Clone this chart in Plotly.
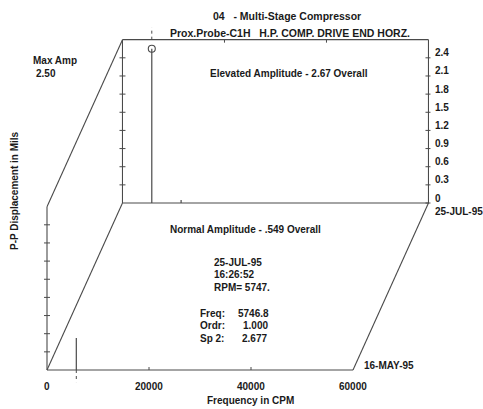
import plotly.graph_objects as go

# ---------------- data ----------------
dates = ["16-MAY-95", "25-JUL-95"]            # front plane, back plane
peak_freq = [5747, 5747]                      # CPM (1x running speed)
peak_amp = [0.53, 2.55]                       # mils p-p
small_freq = [11494, 11494]                   # 2x component
small_amp = [0.0, 0.05]
freq_min, freq_max = 0, 60000
amp_full = 2.7
amp_step = 0.3
x_tick_vals = [0, 20000, 40000, 60000]
x_tick_text = ["0", "20000", "40000", "60000"]
y_tick_vals = [0, 0.3, 0.6, 0.9, 1.2, 1.5, 1.8, 2.1, 2.4]
y_tick_text = ["0", "0.3", "0.6", "0.9", "1.2", "1.5", "1.8", "2.1", "2.4"]
# oblique offset of the later spectrum (waterfall depth)
dx_cpm = 14800
dy_mils = 2.76

# ---------------- layout geometry ----------------
W, H = 483, 409
x0_px, x1_px = 47, 353        # front plane 0..60000
y0_px = 370                   # front baseline
px_per_mil = 60.5
cpm_per_px = (freq_max - freq_min) / (x1_px - x0_px)
xr = [freq_min - x0_px * cpm_per_px, freq_min + (W - x0_px) * cpm_per_px]
yr = [-(H - y0_px) / px_per_mil, y0_px / px_per_mil]

LC = "#4a4a4a"
TC = "#1a1a1a"
FONT = "Liberation Sans"
FS = 10

fig = go.Figure()
shapes = []
annotations = []

def line(xa, ya, xb, yb, dash="solid", w=1.1):
    shapes.append(dict(type="line", x0=xa, y0=ya, x1=xb, y1=yb, xref="x", yref="y",
                       line=dict(color=LC, width=w, dash=dash)))

def htick(x, y, left=3, right=3):
    shapes.append(dict(type="line", xref="x", yref="y", xsizemode="pixel", xanchor=x,
                       x0=-left, x1=right, y0=y, y1=y, line=dict(color=LC, width=1)))

def vtick(x, y, up=3, down=0):
    shapes.append(dict(type="line", xref="x", yref="y", ysizemode="pixel", yanchor=y,
                       y0=-down, y1=up, x0=x, x1=x, line=dict(color=LC, width=1)))

# frame of the waterfall
bx0, bx1 = freq_min + dx_cpm, freq_max + dx_cpm
line(freq_min, 0, freq_min, amp_full)                      # front left axis
line(freq_min, 0, bx0, dy_mils)                            # bottom-left diagonal
line(freq_min, amp_full, bx0, dy_mils + amp_full)          # top-left diagonal
line(freq_max, 0, bx1, dy_mils)                            # bottom-right diagonal
line(bx0, dy_mils, bx0, dy_mils + amp_full)                # back left axis
line(bx0, dy_mils + amp_full, bx1, dy_mils + amp_full)     # back top
line(bx1, dy_mils, bx1, dy_mils + amp_full)                # back right axis

nticks = int(round(amp_full / amp_step))
for i in range(1, nticks):
    v = i * amp_step
    htick(freq_min, v, 3, 3)
    htick(bx0, dy_mils + v, 3, 3)
for v in y_tick_vals:
    htick(bx1, dy_mils + v, 3, 2)
for v in x_tick_vals[1:-1]:
    vtick(v, 0, 3, 0)
    vtick(v + dx_cpm, dy_mils + amp_full, 0, 3)

# spectra
for k, (off_x, off_y) in enumerate([(0, 0), (dx_cpm, dy_mils)]):
    xs = [freq_min, peak_freq[k], peak_freq[k], peak_freq[k], small_freq[k], small_freq[k],
          small_freq[k], freq_max]
    ys = [0, 0, peak_amp[k], 0, 0, small_amp[k], 0, 0]
    fig.add_trace(go.Scatter(x=[v + off_x for v in xs], y=[v + off_y for v in ys],
                             mode="lines", line=dict(color=LC, width=1.2),
                             hoverinfo="skip", showlegend=False))

# cursor lines (dotted extensions) and cursor circle
line(peak_freq[0], 0, peak_freq[0], -0.2, dash="dot", w=1)
line(peak_freq[1] + dx_cpm, dy_mils + amp_full, peak_freq[1] + dx_cpm, dy_mils + amp_full + 0.2,
     dash="dot", w=1)
fig.add_trace(go.Scatter(x=[peak_freq[1] + dx_cpm], y=[peak_amp[1] + dy_mils], mode="markers",
                         marker=dict(symbol="circle-open", size=7, color=LC, line=dict(width=1.1)),
                         hoverinfo="skip", showlegend=False))

def txt(text, x, y, xref="x", yref="y", xa="center", ya="middle", size=FS, xs=0, ys=0,
        angle=0):
    annotations.append(dict(text="<b>" + text + "</b>", x=x, y=y, xref=xref, yref=yref,
                            xanchor=xa, yanchor=ya, showarrow=False, xshift=xs, yshift=ys,
                            textangle=angle,
                            font=dict(family=FONT, size=size, color=TC)))

def ptxt(text, px, py, xa="center", size=FS, angle=0):
    txt(text, px / W, 1 - py / H, xref="paper", yref="paper", xa=xa, size=size, angle=angle)

# axis tick labels
for v, t in zip(x_tick_vals, x_tick_text):
    txt(t, v, 0, ya="middle", ys=-16)
for v, t in zip(y_tick_vals, y_tick_text):
    txt(t, bx1, dy_mils + v, xa="left", xs=5, ys=5)
txt(dates[1], bx1, dy_mils, xa="left", xs=5, ys=-8)
txt(dates[0], freq_max, 0, xa="left", xs=9, ys=5)

# titles and notes
ptxt("04\u00a0\u00a0\u00a0- Multi-Stage Compressor", 287, 16, size=10.5)
ptxt("Prox.Probe-C1H\u00a0\u00a0\u00a0H.P. COMP. DRIVE END HORZ.", 290, 33, size=10.5)
ptxt("Max Amp", 55, 60)
ptxt("2.50", 46, 73)
ptxt("Elevated Amplitude - 2.67 Overall", 289, 73)
ptxt("Normal Amplitude - .549 Overall", 246, 229)
ptxt("25-JUL-95", 212, 262, xa="left")
ptxt("16:26:52", 212, 274, xa="left")
ptxt("RPM= 5747.", 212, 287, xa="left")
ptxt("Freq:", 198, 313, xa="left")
ptxt("Ordr:", 198, 325, xa="left")
ptxt("Sp 2:", 198, 338, xa="left")
ptxt("5746.8", 271, 313, xa="right")
ptxt("1.000", 270, 325, xa="right")
ptxt("2.677", 269, 338, xa="right")
ptxt("Frequency in CPM", 251, 400)
ptxt("P-P Displacement in Mils", 14, 191, angle=-90)

fig.update_layout(
    width=W, height=H, autosize=False,
    margin=dict(l=0, r=0, t=0, b=0),
    paper_bgcolor="white", plot_bgcolor="white",
    xaxis=dict(range=xr, visible=False, fixedrange=True),
    yaxis=dict(range=yr, visible=False, fixedrange=True),
    shapes=shapes, annotations=annotations, showlegend=False,
)
fig.write_html("out.html", config={"displayModeBar": False},
               post_script="document.body.style.margin='0';document.body.style.overflow='hidden';")
